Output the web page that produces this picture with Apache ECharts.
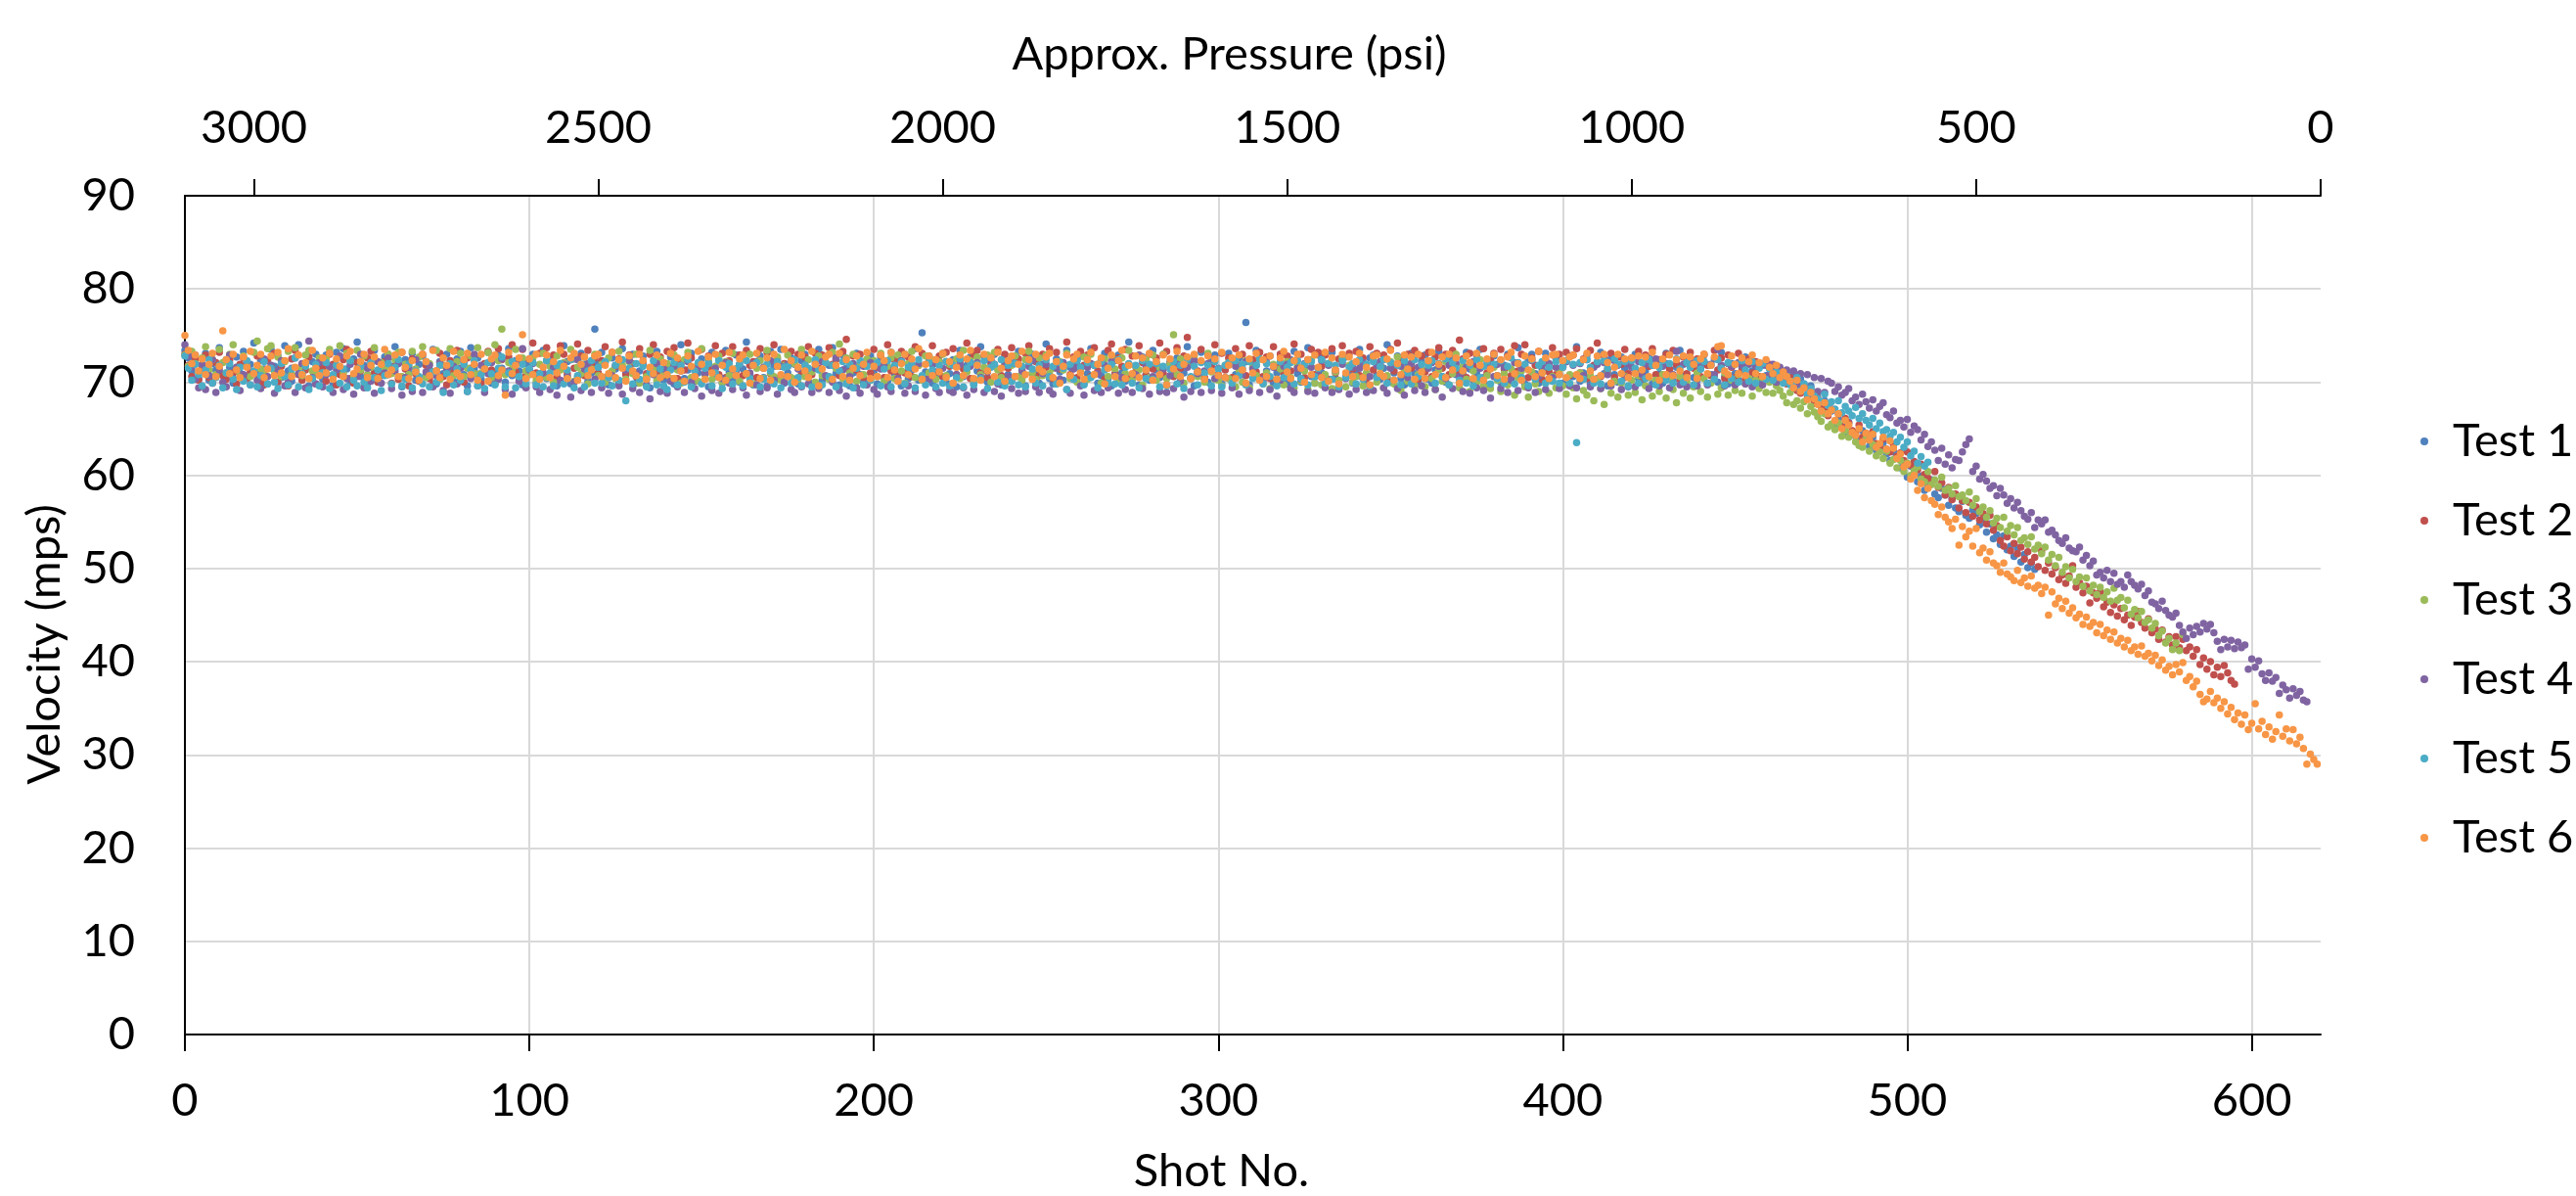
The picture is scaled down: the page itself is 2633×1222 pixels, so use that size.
<!DOCTYPE html>
<html><head><meta charset="utf-8">
<script src="https://cdn.jsdelivr.net/npm/echarts@6/dist/echarts.min.js"></script>
<style>html,body{margin:0;padding:0;background:#fff}#c{width:2633px;height:1222px}</style>
</head><body><div id="c"></div>
<script>
const seriesNames = ['Test 1','Test 2','Test 3','Test 4','Test 5','Test 6'];
const shotTicks = [0,100,200,300,400,500,600];
const pressureTicks = [0,500,1000,1500,2000,2500,3000];

// Velocity (mps) per shot, index = shot number
const test1 = [
73.4,72.6,71.2,72.9,70.4,71.8,73.1,70.2,72.0,71.3,73.7,70.8,72.4,71.6,69.9,72.7,71.0,73.3,70.6,71.9,
74.2,70.9,72.3,71.4,69.8,73.5,71.7,72.8,70.5,73.9,71.2,70.1,72.6,74.0,70.7,71.9,69.6,72.2,73.0,71.1,
70.3,72.9,71.6,69.7,73.2,70.9,73.6,71.4,70.0,72.5,74.3,70.6,71.8,69.9,72.1,73.4,70.4,71.5,72.7,70.8,
71.7,73.8,70.5,69.5,72.4,71.0,73.1,70.2,71.9,72.8,70.7,71.3,73.5,69.8,72.2,70.9,73.0,71.6,70.1,72.5,
73.3,70.8,69.6,73.7,71.4,72.6,70.3,71.8,73.2,69.9,71.1,72.9,71.5,70.0,73.6,70.7,72.3,71.2,69.7,72.0,
71.3,73.0,69.9,70.8,73.4,70.4,72.1,72.7,69.6,71.6,73.9,72.2,69.8,72.5,70.6,73.1,71.9,70.1,71.0,75.7,
72.0,73.2,70.5,69.7,72.6,71.4,70.0,73.6,70.9,72.3,73.0,69.9,71.2,72.8,70.3,69.4,71.7,73.3,70.7,70.2,
71.8,72.7,69.8,72.0,74.0,70.4,71.3,73.1,70.1,71.0,72.5,71.6,69.5,73.2,70.6,72.4,69.9,73.4,71.1,70.3,
72.9,70.0,71.4,74.3,70.8,69.7,72.2,72.8,70.5,69.6,73.3,71.7,70.4,73.5,69.9,71.0,72.6,71.9,69.8,72.3,
73.0,71.1,69.9,72.1,73.5,70.2,70.6,71.8,73.7,70.9,69.7,72.9,71.5,69.6,71.0,73.1,70.8,70.0,72.4,72.8,
71.0,69.8,72.7,71.9,70.1,73.2,70.9,72.3,69.6,73.0,70.4,71.3,73.6,70.2,75.3,71.1,72.8,69.9,72.0,70.7,
73.1,70.0,70.9,72.4,69.5,73.4,70.6,71.8,72.7,69.8,71.2,73.8,70.3,70.0,72.2,73.0,71.4,69.7,72.9,70.8,
70.1,72.2,73.3,70.5,69.6,72.6,73.0,71.0,69.9,71.9,74.1,70.4,69.8,72.5,71.1,70.2,73.4,71.6,70.3,72.4,
72.8,69.8,70.9,73.6,71.8,69.9,70.7,73.1,70.4,69.6,72.3,72.9,71.0,70.1,74.3,70.6,71.7,69.7,72.7,70.8,
70.2,73.4,71.3,70.5,73.0,69.7,72.2,70.8,72.6,69.9,71.0,73.8,71.9,69.6,70.9,73.2,70.3,70.0,72.5,72.9,
70.6,69.8,71.7,73.1,70.0,70.8,72.6,71.4,76.4,69.7,72.1,73.4,70.5,70.2,71.2,72.8,69.9,71.0,73.0,70.4,
69.8,72.4,73.3,70.9,70.0,71.6,73.7,70.6,69.9,72.9,71.0,70.1,72.0,73.2,70.4,69.6,72.3,72.7,70.8,69.9,
71.2,73.5,70.5,69.8,72.6,72.9,70.7,70.3,71.5,74.0,70.0,71.0,72.8,70.4,69.7,71.9,73.1,70.9,70.1,72.2,
72.9,70.3,69.9,71.3,73.3,70.6,70.0,72.5,72.7,70.8,69.8,70.9,73.2,71.4,70.2,70.9,73.5,70.5,69.7,72.1,
72.8,70.7,70.0,71.8,73.0,70.2,71.1,73.7,70.5,69.8,72.4,73.0,70.9,69.9,71.3,73.1,70.4,70.1,72.6,70.8,
69.9,72.2,72.8,70.6,73.8,70.1,71.0,72.9,69.8,71.7,70.4,73.2,70.9,69.6,72.5,70.8,70.0,72.7,71.4,69.5,
72.3,73.0,70.4,70.0,71.2,72.6,69.8,72.4,70.9,69.9,73.1,70.6,70.1,71.6,73.4,70.7,69.6,72.3,70.5,70.2,
71.4,72.9,69.9,70.8,72.5,70.0,73.2,70.6,69.8,72.0,70.9,70.2,71.6,72.7,70.1,71.2,70.5,69.9,71.8,70.7,
70.4,71.6,69.9,70.8,70.0,71.1,69.8,70.9,69.5,70.4,69.8,68.6,69.6,68.2,68.9,67.4,68.0,66.8,66.9,65.4,
66.0,65.3,64.6,65.7,64.5,64.2,63.6,64.8,63.9,63.1,64.1,62.7,62.9,63.5,62.3,61.6,62.5,61.9,60.8,61.2,
59.8,61.0,60.2,59.3,59.9,58.4,58.9,59.5,58.0,57.6,58.6,57.9,56.8,57.5,56.5,56.1,57.2,55.7,55.4,56.3,
55.9,54.7,55.3,53.9,54.8,53.2,53.6,52.6,53.5,52.0,52.4,51.3,52.2,50.7,51.5,50.1,50.6,49.9
];
const test2 = [
73.0,71.8,70.6,72.5,70.2,71.4,72.9,70.5,69.9,72.1,73.2,70.7,70.3,72.4,71.0,69.8,71.9,72.6,70.4,71.1,
70.9,72.8,70.1,69.7,72.3,71.6,73.1,70.0,71.7,70.6,69.6,72.5,73.4,70.8,70.2,71.3,72.7,70.5,69.8,72.0,
71.5,70.1,73.0,71.9,69.7,70.8,72.4,73.5,70.4,69.9,72.1,71.2,69.5,72.6,73.3,71.0,70.0,70.7,72.2,73.0,
69.9,71.7,70.3,73.2,71.4,69.6,72.5,70.9,70.1,73.0,71.8,70.4,69.8,71.2,73.1,70.6,69.7,72.3,71.0,73.4,
70.5,70.0,72.6,71.5,72.9,70.8,69.8,72.0,73.3,71.3,70.6,73.6,72.4,70.9,72.7,74.0,71.1,72.2,73.5,70.7,
72.5,74.2,71.0,73.1,70.8,73.7,72.0,72.9,70.6,73.9,73.0,70.9,72.4,71.5,74.1,72.8,70.7,73.4,71.9,72.6,
71.0,72.3,73.8,70.5,73.2,71.7,72.5,74.3,70.8,72.9,72.0,70.6,73.6,72.2,70.9,73.0,74.0,71.2,72.7,70.7,
73.3,71.6,73.7,70.4,72.1,71.3,74.2,72.6,70.6,71.8,73.5,70.9,72.8,71.4,73.9,70.8,73.1,70.5,72.3,73.8,
71.2,72.9,70.7,73.4,71.8,72.2,70.5,73.6,71.5,73.2,70.9,74.0,72.5,70.6,72.0,71.7,73.3,70.3,73.0,71.0,
72.7,73.8,70.8,73.1,71.5,72.9,70.6,73.7,71.9,72.4,70.7,73.3,74.6,71.1,72.8,71.3,73.0,70.5,72.2,71.0,
73.5,71.6,72.9,70.5,74.0,71.2,72.4,70.9,73.3,71.0,72.7,70.6,73.8,71.8,73.1,70.3,72.2,73.9,71.1,72.8,
70.6,73.2,71.7,73.6,70.8,72.3,71.4,74.2,70.4,72.9,73.4,71.0,72.8,70.5,72.0,71.9,73.5,70.7,73.0,71.5,
73.7,70.6,72.5,71.3,73.1,73.9,70.9,72.2,70.7,73.0,71.6,73.6,70.4,73.2,71.4,72.0,74.3,70.8,72.7,70.5,
73.3,71.8,72.9,70.6,73.7,71.2,72.4,70.3,73.4,74.1,70.9,72.6,71.7,73.5,70.5,72.8,71.1,73.9,72.1,70.7,
73.0,71.4,72.6,74.2,70.9,73.3,72.0,70.6,73.7,71.5,72.8,74.8,70.4,72.3,71.2,73.5,70.5,72.9,71.7,74.0,
70.8,73.1,71.3,72.6,70.5,73.6,71.8,73.0,70.7,73.9,72.4,71.1,73.2,70.6,72.7,70.4,73.8,71.6,73.0,70.9,
72.8,71.2,74.1,71.5,73.0,70.5,72.4,73.5,70.8,73.2,71.7,72.9,70.3,73.6,71.0,72.5,73.9,70.6,73.1,71.4,
73.3,70.7,72.6,70.4,73.8,71.3,73.1,71.8,72.9,70.5,73.5,71.2,74.2,72.4,70.8,73.0,71.5,73.4,70.3,72.8,
71.1,73.2,70.6,72.7,73.7,71.5,73.0,70.8,73.4,71.2,74.5,72.5,70.5,73.1,71.7,72.9,70.4,73.6,71.0,72.3,
73.1,70.6,73.5,71.4,72.8,70.7,73.9,71.2,73.0,74.0,70.5,72.6,71.8,73.3,70.3,72.4,71.1,73.7,70.8,73.0,
71.6,73.2,70.7,72.9,73.6,71.0,72.5,70.4,73.4,71.8,74.2,70.6,72.8,71.3,73.1,70.5,72.7,71.9,73.5,70.9,
72.6,71.2,73.3,70.4,72.9,71.7,73.6,70.8,72.4,70.5,73.0,71.4,73.4,71.9,70.3,72.7,70.9,73.2,71.5,72.5,
70.6,73.0,71.8,70.7,73.4,71.3,72.6,70.4,72.9,71.6,70.5,73.1,71.2,70.3,72.5,71.0,72.2,70.6,71.9,70.5,
71.9,70.6,71.4,70.9,70.3,69.8,70.5,69.4,69.1,68.8,69.4,68.2,68.6,67.7,68.3,67.5,66.9,66.4,67.1,65.8,
66.6,65.2,66.1,65.6,64.8,64.6,65.4,64.1,64.5,63.8,64.7,63.4,63.1,63.9,62.8,62.5,63.3,62.0,62.4,61.6,
62.5,61.1,61.5,60.6,61.2,60.1,59.7,59.3,60.4,58.7,59.2,57.9,58.7,57.4,58.0,56.5,57.3,56.0,57.1,55.6,
56.6,55.2,55.9,54.8,55.7,54.1,54.6,53.0,52.4,53.4,51.9,52.7,51.6,52.3,51.0,51.8,50.7,51.2,50.2,51.9,
49.8,50.6,49.4,50.1,48.8,49.3,48.4,49.2,50.3,48.0,48.5,47.4,48.1,46.3,47.4,46.8,47.5,45.9,46.4,45.3,
46.1,44.9,45.7,44.5,45.0,43.9,44.8,45.4,44.2,43.6,44.6,43.1,43.5,42.4,43.4,42.1,42.7,41.8,42.7,41.5,
42.4,41.2,41.6,40.6,41.3,39.7,40.4,39.2,40.0,38.6,39.4,38.4,39.6,38.8,38.0,37.6
];
const test3 = [
72.9,71.7,73.3,72.0,70.9,72.6,73.8,71.3,72.4,70.8,73.5,72.1,71.0,73.0,74.0,71.6,70.7,72.8,71.9,70.6,
73.2,74.4,71.4,70.9,73.6,73.9,71.1,72.7,70.6,72.2,73.3,70.8,73.7,71.5,70.7,72.9,73.4,71.2,70.9,72.6,
71.0,72.5,73.5,70.7,71.8,73.9,70.9,73.1,72.3,70.5,73.4,71.3,72.8,70.8,71.6,73.7,70.4,72.1,71.5,73.0,
70.9,72.4,73.2,70.6,71.9,70.8,73.3,71.4,72.7,73.8,70.5,72.0,71.1,73.4,70.3,71.8,71.2,73.6,70.7,72.2,
73.1,70.6,71.5,72.8,70.9,73.7,71.0,71.8,73.2,70.4,74.0,72.3,75.7,70.8,72.1,71.4,73.5,70.5,72.6,71.2,
70.8,72.6,70.2,71.9,73.1,70.5,71.7,70.0,72.8,71.3,72.1,70.6,73.5,70.1,71.6,70.9,72.7,69.8,71.4,73.0,
70.7,71.9,70.0,72.6,71.2,70.4,73.3,71.8,70.3,72.2,70.9,73.0,69.9,72.1,70.6,73.4,71.5,70.2,72.5,70.8,
72.0,70.4,72.9,71.3,69.9,72.4,73.2,70.5,71.6,70.1,73.6,70.8,72.3,70.3,71.7,72.8,70.0,72.2,70.7,73.1,
71.4,70.1,72.5,70.9,73.0,69.8,71.5,72.3,70.4,73.4,71.0,70.6,72.7,70.2,71.8,72.9,70.5,72.0,70.3,73.5,
70.6,72.4,71.1,70.0,72.8,70.7,72.1,70.3,73.2,71.5,74.1,70.4,72.6,71.0,73.0,70.1,71.9,70.8,72.5,70.2,
72.3,70.6,73.1,70.1,71.7,72.6,70.4,72.9,71.2,69.9,72.0,73.3,70.5,71.8,70.2,72.8,71.0,72.4,70.3,72.2,
73.0,70.7,71.9,69.9,72.5,70.4,73.4,71.1,72.3,70.2,72.7,70.8,71.6,72.9,70.0,73.2,71.3,70.5,72.1,70.1,
71.8,72.8,70.6,70.2,72.4,73.3,71.0,70.3,72.6,70.7,72.9,70.9,71.5,69.8,72.2,71.3,73.1,70.4,72.0,70.0,
71.2,72.7,70.3,73.0,70.8,71.9,69.9,72.5,70.6,72.8,71.4,70.1,72.6,70.9,73.4,70.2,71.7,71.3,69.7,72.4,
70.5,72.9,70.2,71.6,73.0,70.4,71.9,75.1,70.8,72.5,69.9,71.7,70.4,72.8,70.6,72.2,70.0,73.1,71.1,70.3,
70.2,69.6,71.8,70.4,72.1,69.5,71.3,70.0,72.3,69.4,71.6,70.7,72.5,69.8,71.0,69.3,71.9,70.3,71.4,69.7,
72.2,70.5,69.4,71.7,70.1,71.2,69.2,72.4,69.9,71.5,69.7,70.8,72.0,69.3,71.1,70.2,72.6,69.5,71.8,70.0,
70.6,72.1,69.6,71.0,69.2,72.3,70.0,71.6,69.4,70.7,72.2,69.8,72.7,69.1,71.3,70.1,72.0,69.6,70.8,71.5,
69.5,72.0,70.4,69.2,71.3,70.1,72.2,69.7,70.9,73.0,69.4,71.7,70.3,69.0,71.2,70.0,72.4,69.6,70.7,69.3,
71.6,70.2,69.0,70.9,69.7,71.4,68.6,70.5,71.2,69.5,68.4,71.1,69.8,69.0,71.0,69.9,68.8,70.6,69.4,71.3,
69.6,68.7,70.8,69.4,68.2,71.0,69.1,68.6,70.7,68.0,70.3,69.3,67.6,70.9,68.8,70.1,68.4,69.9,70.6,68.6,
70.2,68.9,70.7,68.1,69.6,70.5,68.5,70.2,69.0,70.8,68.3,70.4,69.2,67.8,70.6,68.8,70.1,68.3,69.5,71.0,
69.0,70.4,68.4,69.9,70.7,68.7,69.4,71.0,68.6,70.2,69.1,70.8,68.8,69.8,70.4,68.5,70.2,69.3,70.5,68.9,
70.0,68.8,69.6,69.1,68.5,67.8,68.9,67.6,68.0,67.2,67.9,66.6,67.4,66.8,66.3,65.8,66.6,65.2,65.5,64.9,
65.6,64.2,64.8,64.1,64.5,63.6,63.2,63.0,63.9,62.6,63.3,62.1,62.5,61.8,62.6,61.3,61.7,60.8,61.6,60.4,
61.3,60.0,60.5,60.9,59.6,59.3,60.4,59.0,59.5,58.8,59.8,58.4,58.6,58.0,58.9,57.7,57.9,57.3,58.2,56.8,
57.5,56.1,56.6,55.5,56.2,54.9,55.4,54.4,55.5,54.0,54.6,53.6,54.4,53.0,53.3,52.6,53.4,52.1,52.5,51.6,
52.3,50.9,51.5,50.3,51.2,49.6,50.2,49.0,49.9,48.6,49.1,48.1,49.0,47.6,48.2,47.2,48.0,46.9,47.5,46.5,
47.9,46.6,46.9,45.8,46.6,45.1,45.6,44.7,45.4,44.2,44.5,43.6,44.1,42.8,43.3,42.0,42.5,41.3,42.0,41.2,42.9
];
const test4 = [
74.0,72.8,71.6,70.3,69.4,71.9,69.2,70.7,72.4,68.9,71.3,70.0,69.5,72.9,70.4,71.6,69.1,70.8,72.2,69.7,
71.1,70.2,69.3,72.5,70.6,71.8,68.8,71.2,72.3,69.6,70.0,71.5,68.9,70.9,72.0,69.4,74.4,70.5,69.8,72.1,
69.5,70.8,71.7,68.9,71.3,72.8,69.2,70.4,71.9,68.7,70.6,73.0,69.4,71.5,70.1,68.8,72.2,69.9,71.0,72.6,
69.3,71.2,72.0,68.6,70.5,71.6,69.0,72.4,70.2,68.9,71.1,71.8,69.5,70.7,72.1,69.1,71.4,68.8,71.7,69.8,
71.5,72.2,69.0,70.4,73.0,69.6,71.8,68.9,70.9,72.1,69.8,70.3,72.5,69.2,71.2,68.7,71.9,70.1,73.6,69.4,
71.3,72.0,69.5,68.9,71.0,72.3,69.2,71.6,68.6,70.2,71.9,70.6,68.4,70.0,72.4,69.1,71.4,72.0,68.9,70.3,
71.6,69.4,72.1,68.8,70.7,71.8,69.6,68.7,71.3,72.3,69.3,71.0,68.9,71.9,69.7,68.2,70.8,72.0,69.0,71.4,
68.8,70.1,71.7,69.5,71.2,68.9,72.2,70.0,69.3,71.6,68.5,70.9,72.0,69.1,71.5,68.8,70.4,72.1,69.9,69.2,
71.3,71.9,69.4,68.6,71.0,72.0,69.7,69.0,71.6,69.4,72.3,70.2,68.7,71.7,70.0,71.9,69.2,68.9,71.4,69.5,
71.8,69.8,68.9,71.5,69.3,72.2,70.7,68.9,70.0,72.6,69.1,71.3,68.5,70.6,72.0,69.4,68.8,71.7,69.7,72.1,
69.2,68.7,71.4,71.9,69.5,69.0,71.6,70.4,72.3,68.8,69.6,71.8,69.0,72.0,70.6,68.6,70.3,71.9,69.3,68.9,
71.5,72.2,69.1,68.9,70.8,71.9,69.4,68.6,71.7,69.2,72.1,70.5,68.9,71.1,72.4,69.0,69.8,68.5,71.8,70.6,
69.3,72.0,68.8,71.2,69.0,71.7,72.3,69.5,68.9,70.9,71.9,69.1,68.7,71.5,70.3,72.1,69.2,68.8,71.4,71.8,
69.6,68.6,71.6,72.0,69.1,70.9,68.9,71.8,69.4,72.2,70.7,68.8,70.5,69.2,71.9,68.9,70.8,72.9,69.3,71.7,
68.7,70.6,72.1,69.0,71.4,68.9,70.7,69.3,71.9,70.1,68.4,71.6,69.0,72.3,70.9,68.9,71.2,72.0,69.1,70.4,
71.5,68.8,70.5,71.9,69.4,71.7,68.7,70.8,72.2,69.1,71.4,71.8,68.9,70.3,72.1,69.2,71.6,68.5,70.2,71.7,
71.9,69.3,68.9,71.5,70.3,72.0,69.0,71.6,68.8,70.7,72.3,69.4,71.8,68.9,71.3,69.2,71.9,70.4,68.7,71.6,
69.2,71.5,72.1,68.9,70.6,69.1,71.8,72.2,69.4,68.8,71.5,71.9,69.3,71.7,68.6,70.5,72.0,69.1,71.6,69.6,
68.9,71.5,72.1,69.2,71.7,68.4,70.4,71.8,69.3,72.0,70.6,69.0,71.6,68.8,72.2,69.4,71.5,69.1,71.8,68.3,
70.6,71.9,69.3,71.6,68.9,70.2,72.1,69.1,71.5,71.7,69.4,72.3,68.9,70.6,71.8,69.2,72.0,70.5,71.6,69.3,
71.7,72.2,69.6,71.8,69.4,72.0,70.7,72.4,69.5,71.6,71.9,69.3,72.1,70.8,69.6,72.3,71.8,69.2,70.5,72.0,
71.6,69.5,72.2,70.8,71.9,69.3,71.8,72.5,69.6,71.7,72.0,69.4,70.8,73.3,69.7,71.9,69.5,71.8,72.1,69.6,
71.7,72.2,69.7,71.9,70.8,73.5,71.8,69.6,72.0,71.7,69.7,72.1,71.8,69.8,71.9,69.5,71.7,72.0,69.7,71.8,
70.8,71.9,70.0,71.6,70.4,71.3,70.1,71.2,69.7,70.9,69.6,70.8,69.3,70.5,69.0,70.4,68.9,70.1,69.9,69.0,
69.5,68.6,68.9,69.3,68.0,68.4,67.6,68.7,67.9,67.2,68.1,66.9,67.4,67.8,66.5,66.2,66.9,65.6,65.9,65.2,
66.0,64.6,65.3,64.9,63.8,64.4,63.1,63.6,62.7,61.6,62.9,61.2,62.2,60.8,61.7,61.6,62.5,63.3,63.9,60.4,
61.0,59.6,60.1,59.4,58.6,58.9,57.8,58.6,57.9,57.0,57.5,56.5,57.1,56.2,55.6,55.3,56.0,54.4,55.2,54.8,
55.2,53.9,54.1,53.6,53.0,52.7,53.3,52.2,51.9,51.8,52.3,50.9,51.4,50.3,50.8,49.3,49.6,49.0,49.8,48.6,
49.5,48.3,48.6,48.0,49.3,48.6,48.2,47.8,48.3,47.1,47.6,46.4,46.2,45.7,46.5,45.5,45.0,44.8,45.2,43.9,
43.2,42.5,43.6,42.9,43.8,43.2,44.1,43.5,44.0,43.1,42.2,41.3,42.4,41.6,42.3,41.4,42.1,41.5,41.8,39.2,
40.3,39.4,40.1,38.7,38.0,38.8,37.9,38.3,36.6,37.5,37.0,36.1,37.1,36.4,36.8,35.9,35.7
];
const test5 = [
72.8,71.5,70.2,71.9,70.8,69.6,71.3,72.4,69.9,70.5,71.8,69.4,71.0,72.0,70.3,69.2,71.6,70.1,72.3,69.7,
71.2,69.5,70.7,72.2,69.8,71.5,70.0,69.3,72.0,70.6,69.7,71.4,72.6,69.5,70.9,71.7,69.2,70.4,71.9,69.6,
71.0,72.1,69.3,70.8,71.8,69.9,71.4,69.5,72.3,70.2,69.6,71.7,70.0,69.4,72.1,70.5,71.3,69.1,70.7,72.0,
69.8,71.6,72.4,69.6,70.3,71.9,69.4,71.2,70.6,69.8,72.2,69.5,71.1,70.0,71.8,68.9,70.9,72.0,69.7,71.4,
70.2,71.9,69.0,71.3,72.3,69.6,70.8,69.3,72.1,70.9,69.7,71.5,72.7,69.5,71.0,72.2,69.4,70.6,71.9,69.8,
71.4,72.1,69.7,70.9,69.5,72.3,71.0,69.6,71.8,72.0,69.8,71.3,72.4,69.4,70.7,71.9,69.5,71.2,72.3,69.9,
71.6,69.9,72.2,70.5,69.6,71.8,70.2,72.4,68.0,71.5,69.8,72.0,70.3,71.7,69.5,71.1,72.3,69.7,71.4,69.6,
69.2,71.3,72.1,69.7,71.8,70.0,72.4,69.5,71.2,72.1,69.8,71.5,72.0,69.6,71.0,72.3,69.3,71.6,72.0,69.8,
71.4,71.9,69.6,72.3,70.4,71.8,72.1,69.5,70.3,71.9,71.2,69.8,72.2,69.4,71.6,71.7,69.9,72.4,70.5,69.6,
71.8,71.5,69.5,72.4,71.3,69.7,72.1,70.6,71.8,69.5,71.2,72.2,69.8,71.9,69.4,71.5,72.3,69.7,71.7,70.2,
71.7,72.1,69.6,71.4,72.3,69.5,71.8,70.1,72.2,69.8,71.6,71.9,69.4,72.4,70.7,69.7,72.1,71.3,69.5,71.8,
69.9,72.2,69.6,71.8,70.5,72.5,69.5,71.5,72.1,69.7,71.9,70.4,72.3,69.3,71.6,71.9,70.0,72.4,69.6,71.8,
70.1,72.0,69.7,71.7,69.5,72.2,71.4,69.9,71.8,69.6,72.4,70.6,71.7,69.8,72.1,71.5,69.2,71.9,70.3,72.3,
71.6,69.7,72.1,70.5,71.8,69.4,72.2,71.3,69.9,71.9,69.8,72.4,69.7,71.6,72.0,69.9,71.8,69.4,72.3,70.4,
71.9,70.3,72.0,69.5,71.7,69.6,71.4,72.2,69.8,71.8,69.3,72.5,70.6,71.7,69.7,72.1,71.0,71.8,69.6,72.2,
71.4,69.5,71.8,72.1,69.9,72.3,70.7,71.9,69.7,72.2,70.4,71.8,72.5,69.8,72.0,70.6,71.7,69.6,72.2,70.5,
71.6,72.1,69.8,72.3,70.4,71.9,69.7,72.2,70.6,71.5,72.4,69.9,72.0,70.3,71.8,69.5,72.3,70.5,71.6,72.0,
69.8,72.4,70.3,71.9,69.6,72.2,70.5,71.7,72.4,69.9,72.1,70.2,71.8,69.7,72.3,71.0,69.8,72.4,70.6,71.9,
70.4,71.8,72.3,69.9,72.0,70.6,72.5,69.7,72.1,71.5,70.2,72.3,69.9,71.8,69.6,72.4,70.5,71.7,72.2,69.8,
71.9,70.4,72.3,69.9,71.7,72.6,69.8,72.1,70.5,71.9,69.6,72.4,70.3,71.8,72.2,69.9,71.6,70.1,72.2,69.9,
71.6,72.3,69.9,71.9,63.5,72.1,70.3,72.4,71.6,69.9,72.2,69.8,72.3,71.5,69.9,72.5,71.9,70.1,72.2,69.6,
72.3,71.5,69.9,72.1,70.4,72.4,71.8,69.7,71.6,72.3,70.2,72.0,69.9,72.5,71.4,70.0,72.1,71.6,69.7,72.3,
71.4,72.2,69.9,71.8,70.3,72.4,71.5,69.7,72.1,70.4,71.9,70.0,72.3,71.3,70.1,72.2,69.9,71.5,72.0,70.3,
71.4,70.2,71.1,70.5,69.9,70.6,69.7,70.1,70.5,69.1,69.8,68.7,69.3,68.5,68.2,67.9,68.7,67.5,67.9,67.1,
68.0,66.7,67.4,66.9,66.4,67.3,66.1,66.6,65.9,65.4,66.1,65.0,65.6,64.7,64.9,64.2,64.6,63.6,64.1,63.0,
63.6,62.1,62.6,61.3,62.0,61.0,61.4
];
const test6 = [
75.0,73.4,72.0,72.9,71.2,72.5,70.8,71.9,73.1,70.6,71.7,75.5,72.4,70.9,73.0,71.3,70.5,72.7,71.6,73.3,
70.9,71.8,73.0,70.5,71.4,72.8,70.7,73.2,71.0,72.3,73.6,70.6,71.6,72.9,70.8,72.1,70.4,73.4,71.5,70.7,
72.6,71.0,73.1,70.3,72.5,71.7,70.6,72.8,73.3,70.9,71.4,72.2,73.0,70.5,71.8,72.7,70.4,71.9,73.5,70.8,
71.3,72.9,70.6,73.2,71.6,70.4,72.3,71.1,70.2,73.0,72.2,70.7,73.4,71.2,70.5,72.6,71.8,70.3,73.3,71.0,
70.6,72.4,73.1,70.8,71.9,70.2,73.0,71.4,70.1,72.5,72.9,70.7,71.3,68.6,73.2,70.9,71.8,72.6,75.1,70.4,
72.5,70.8,73.0,70.3,71.6,72.9,70.5,72.2,71.0,73.4,71.7,70.4,72.6,73.1,70.2,71.9,72.7,70.7,71.3,72.8,
73.0,70.6,71.8,70.9,73.2,70.5,72.4,71.5,70.1,72.8,71.2,70.7,73.0,72.3,70.3,71.6,70.9,72.9,70.5,72.1,
70.8,73.1,70.4,72.6,71.2,70.1,72.8,71.7,70.6,73.3,71.9,70.3,72.7,71.0,73.0,70.5,71.8,70.2,73.2,71.4,
70.7,72.5,72.9,70.9,69.9,71.8,73.1,70.4,71.5,72.6,70.2,73.0,71.7,70.8,73.5,70.6,72.3,70.0,71.6,72.9,
71.2,70.5,73.3,71.9,69.6,71.4,72.7,73.0,70.3,71.8,73.1,70.6,72.4,70.2,71.5,72.8,70.7,71.9,73.2,70.4,
71.7,70.6,72.9,72.3,70.5,73.2,71.3,70.1,72.0,73.0,70.8,72.5,71.4,73.6,70.3,71.9,72.8,70.7,72.4,71.1,
73.1,70.5,72.2,69.9,71.6,72.9,70.7,72.5,73.4,70.4,71.8,70.2,73.0,71.2,72.6,70.6,73.2,71.5,70.1,72.3,
72.8,70.6,71.9,73.3,70.8,72.4,70.3,73.0,71.4,71.1,72.7,73.1,70.5,72.2,69.9,71.7,72.9,70.7,72.5,73.0,
71.0,70.3,72.4,73.2,70.8,71.9,72.6,69.8,71.5,72.9,70.6,72.3,73.4,70.4,71.8,70.9,72.8,70.5,72.6,71.3,
73.1,70.2,72.2,70.8,72.9,69.7,72.5,71.4,73.3,70.6,71.9,72.7,70.4,73.0,71.1,72.3,70.3,72.8,71.2,72.5,
70.7,73.2,70.5,71.8,72.6,70.4,72.9,71.3,69.9,72.5,71.0,73.1,70.2,72.4,70.6,72.8,71.7,70.3,72.6,73.3,
71.1,70.4,72.3,73.0,71.5,70.0,72.4,70.8,72.9,71.6,70.5,73.2,70.1,72.6,71.3,69.8,73.0,71.0,72.7,70.6,
72.2,73.1,70.5,71.6,69.7,72.8,72.9,70.9,70.6,72.5,73.4,70.2,72.0,70.8,72.9,71.4,72.7,70.3,73.0,71.1,
70.4,72.3,73.2,70.8,71.9,72.7,70.5,73.0,71.3,72.6,69.9,71.2,72.8,72.1,70.4,73.1,71.8,70.2,72.5,71.4,
73.0,70.7,72.4,70.3,72.7,73.2,70.9,72.0,70.2,72.8,71.3,72.5,70.6,73.3,71.0,72.6,70.4,72.9,73.0,70.8,
72.3,70.5,72.7,72.9,70.8,70.4,72.4,73.1,71.2,70.3,72.8,70.7,73.0,72.1,69.9,71.6,73.0,70.9,72.5,70.5,
72.6,70.9,72.8,71.3,72.7,70.6,73.2,71.8,70.2,72.5,70.8,72.9,70.7,72.4,71.2,72.8,70.5,72.7,71.9,70.4,
72.5,73.0,70.9,71.8,72.7,73.8,73.9,71.2,70.8,72.8,71.9,70.9,72.6,70.7,72.2,72.9,70.9,72.1,70.6,72.4,
71.6,70.9,71.8,70.5,71.1,70.6,70.1,69.4,70.2,69.0,69.4,68.1,68.9,68.2,67.6,66.9,67.8,66.6,67.0,65.9,
66.6,65.0,65.9,65.4,64.6,64.3,65.0,63.6,64.5,63.8,64.4,63.0,63.4,64.1,62.8,63.7,62.9,61.8,62.3,60.9,
61.2,59.6,60.0,58.4,59.1,57.6,58.6,57.3,56.9,55.8,56.6,55.5,55.0,54.3,55.3,52.5,54.5,53.4,54.0,52.4,
54.3,51.7,52.2,50.9,51.8,50.6,50.3,49.6,50.6,49.4,49.1,48.7,49.8,48.5,49.0,48.1,49.2,47.9,48.2,47.3,
48.0,45.0,47.5,46.2,46.8,45.7,46.5,45.2,45.8,44.7,45.1,44.0,44.8,43.8,44.2,43.1,44.0,42.8,43.4,42.4,
43.2,42.0,42.5,41.6,42.3,41.2,41.6,40.8,41.7,40.6,40.9,40.1,40.7,39.6,40.2,39.1,39.5,38.6,39.7,38.9,
39.9,38.0,38.4,37.3,37.9,36.5,35.7,36.0,36.8,35.6,36.1,35.0,35.7,34.4,35.1,33.8,34.5,33.3,34.3,32.7,
33.4,35.5,32.8,33.6,32.2,33.0,31.7,32.5,34.3,32.0,32.8,31.5,32.7,31.2,31.9,30.7,29.0,30.1,29.5,29.0
];

const allTests = [test1, test2, test3, test4, test5, test6];
const colors = ['#4F81BD','#C0504D','#9BBB59','#8064A2','#4BACC6','#F79646'];
const FONT = 'Lato, "Liberation Sans", sans-serif';
const FS = 47;
const plain = v => String(v);

const chart = echarts.init(document.getElementById('c'), null, {renderer: 'canvas'});
chart.setOption({
  animation: false,
  backgroundColor: '#fff',
  textStyle: {fontFamily: FONT, color: '#000'},
  grid: {left: 189, right: 261, top: 200, bottom: 165, containLabel: false, outerBoundsMode: 'none'},
  legend: {
    orient: 'vertical', left: 2469, top: 421,
    icon: 'circle', itemWidth: 8, itemHeight: 8, itemGap: 31,
    textStyle: {fontSize: FS, fontFamily: FONT, color: '#000', lineHeight: 50, padding: [0, 0, 0, 20]},
    data: seriesNames
  },
  xAxis: [
    {
      type: 'value', position: 'bottom', min: 0, max: 620, interval: 100,
      name: 'Shot No.', nameLocation: 'middle', nameGap: 116,
      nameTextStyle: {fontSize: FS, fontFamily: FONT, color: '#000', padding: [0, 64, 0, 0]},
      axisLine: {show: true, onZero: false, lineStyle: {color: '#000', width: 2}},
      axisTick: {show: true, inside: false, length: 17, customValues: shotTicks, lineStyle: {color: '#000', width: 2}},
      axisLabel: {customValues: shotTicks, formatter: plain, margin: 44, fontSize: FS, fontFamily: FONT, color: '#000'},
      splitLine: {show: true, lineStyle: {color: '#d9d9d9', width: 2}}
    },
    {
      type: 'value', position: 'top', min: 0, max: 3100, interval: 500, inverse: true,
      name: 'Approx. Pressure (psi)', nameLocation: 'middle', nameGap: 121,
      nameTextStyle: {fontSize: FS, fontFamily: FONT, color: '#000', padding: [0, 48, 0, 0]},
      axisLine: {show: true, onZero: false, lineStyle: {color: '#000', width: 2}},
      axisTick: {show: true, inside: false, length: 17, customValues: pressureTicks, lineStyle: {color: '#000', width: 2}},
      axisLabel: {customValues: pressureTicks, formatter: plain, margin: 46, fontSize: FS, fontFamily: FONT, color: '#000'},
      splitLine: {show: false}
    }
  ],
  yAxis: {
    type: 'value', min: 0, max: 90, interval: 10,
    name: 'Velocity (mps)', nameLocation: 'middle', nameGap: 120, nameRotate: 90,
    nameTextStyle: {fontSize: FS, fontFamily: FONT, color: '#000', padding: [0, 60, 0, 0]},
    axisLine: {show: true, onZero: false, lineStyle: {color: '#000', width: 2}},
    axisTick: {show: false},
    axisLabel: {margin: 51, formatter: plain, fontSize: FS, fontFamily: FONT, color: '#000'},
    splitLine: {show: true, lineStyle: {color: '#d9d9d9', width: 2}}
  },
  series: allTests.map((arr, k) => ({
    name: seriesNames[k],
    type: 'scatter',
    xAxisIndex: 0,
    symbol: 'circle',
    symbolSize: 7.5,
    itemStyle: {color: colors[k], opacity: 1},
    emphasis: {disabled: true},
    data: arr.map((v, i) => [i, v])
  }))
});
</script>
</body></html>
